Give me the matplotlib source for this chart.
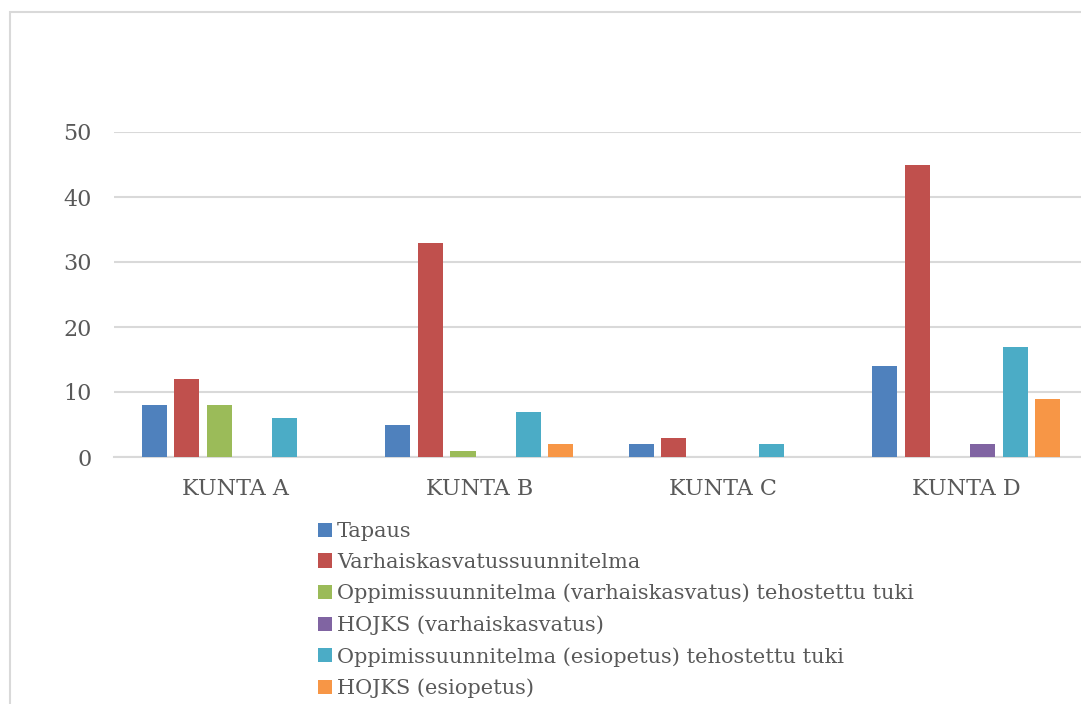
import matplotlib
matplotlib.use("Agg")
import matplotlib.pyplot as plt
import numpy as np
from matplotlib.patches import Rectangle

categories = ["KUNTA A", "KUNTA B", "KUNTA C", "KUNTA D"]
series_names = [
    "Tapaus",
    "Varhaiskasvatussuunnitelma",
    "Oppimissuunnitelma (varhaiskasvatus) tehostettu tuki",
    "HOJKS (varhaiskasvatus)",
    "Oppimissuunnitelma (esiopetus) tehostettu tuki",
    "HOJKS (esiopetus)",
]
tapaus = [8, 5, 2, 14]
varhais = [12, 33, 3, 45]
opp_varhais = [8, 1, 0, 0]
hojks_varhais = [0, 0, 0, 2]
opp_esi = [6, 7, 2, 17]
hojks_esi = [0, 2, 0, 9]
series_values = [tapaus, varhais, opp_varhais, hojks_varhais, opp_esi, hojks_esi]
colors = ["#4F81BD", "#C0504D", "#9BBB59", "#8064A2", "#4BACC6", "#F79646"]
yticks = [0, 10, 20, 30, 40, 50]

W, H = 1081, 704
fig = plt.figure(figsize=(W / 100, H / 100), dpi=100)
fig.patch.set_facecolor("white")

# outer chart border (cropped)
fig.patches.append(Rectangle((10 / W, -0.1), 1.2, 1 - 12 / H + 0.1,
                             transform=fig.transFigure, fill=False,
                             edgecolor="#d9d9d9", linewidth=1.5))

left, right = 114, 1088
top, zero = 132, 457
ax = fig.add_axes([left / W, (H - zero) / H, (right - left) / W, (zero - top) / H])

font = "DejaVu Serif"
txtcol = "#595959"

x = np.arange(len(categories))
step = 0.1336
bw = 0.1028
handles = []
for i, (name, vals, c) in enumerate(zip(series_names, series_values, colors)):
    b = ax.bar(x + (i - 2.5) * step, vals, width=bw, color=c, label=name, zorder=3)
    handles.append(b)

ax.set_xlim(-0.5, 3.5)
ax.set_ylim(0, 50)
ax.set_yticks(yticks)
ax.yaxis.grid(True, color="#d9d9d9", linewidth=1.5, zorder=0)
ax.set_axisbelow(True)
for s in ["top", "right", "left"]:
    ax.spines[s].set_visible(False)
ax.spines["bottom"].set_color("#d9d9d9")
ax.spines["bottom"].set_linewidth(1.5)
ax.set_xticks(x)
ax.set_xticklabels(categories, fontfamily=font, fontsize=16, color=txtcol)
ax.tick_params(axis="x", length=0, pad=15)
ax.tick_params(axis="y", length=0, pad=16, labelsize=16, labelcolor=txtcol)
for t in ax.get_yticklabels():
    t.set_fontfamily(font)

leg = fig.legend(handles=handles, labels=series_names, loc="upper left",
                 bbox_to_anchor=(318 / W, 1 - 522 / H), frameon=False,
                 prop={"family": font, "size": 15}, labelcolor=txtcol,
                 handlelength=0.67, handleheight=0.67, handletextpad=0.25,
                 labelspacing=0.57, borderpad=0, borderaxespad=0)

fig.savefig("out.png", dpi=100, facecolor="white")
